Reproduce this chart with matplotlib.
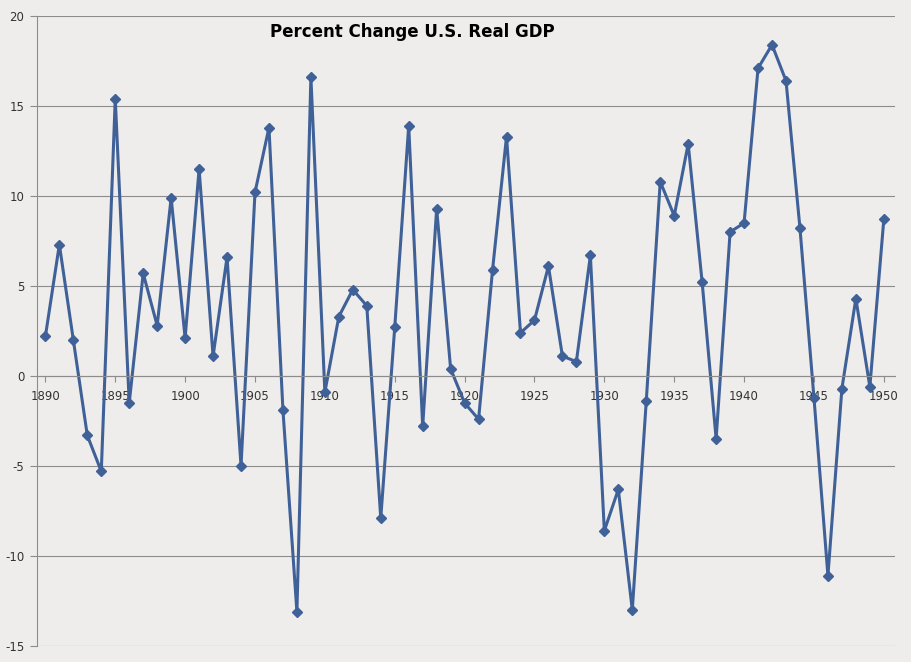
import matplotlib
matplotlib.use("Agg")
import matplotlib.pyplot as plt
from matplotlib.ticker import FuncFormatter

years = list(range(1890, 1951))
gdp = [2.2, 7.3, 2.0, -3.3, -5.3, 15.4, -1.5, 5.7, 2.8, 9.9,
       2.1, 11.5, 1.1, 6.6, -5.0, 10.2, 13.8, -1.9, -13.1, 16.6,
       -0.9, 3.3, 4.8, 3.9, -7.9, 2.7, 13.9, -2.8, 9.3, 0.4,
       -1.5, -2.4, 5.9, 13.3, 2.4, 3.1, 6.1, 1.1, 0.8, 6.7,
       -8.6, -6.3, -13.0, -1.4, 10.8, 8.9, 12.9, 5.2, -3.5, 8.0,
       8.5, 17.1, 18.4, 16.4, 8.2, -1.2, -11.1, -0.7, 4.3, -0.6, 8.7]
xticks = list(range(1890, 1951, 5))
yticks = list(range(-15, 21, 5))

bg = "#EEEDEB"
fig = plt.figure(figsize=(9.12, 6.62), dpi=100, facecolor=bg)
ax = fig.add_axes([37/912, 16/662, (895-37)/912, (646-16)/662])
ax.set_facecolor(bg)
ax.plot(years, gdp, color="#3F6198", lw=2.2, marker="D", ms=5,
        markerfacecolor="#3F6198", markeredgecolor="#3F6198")
ax.set_xlim(1889.4, 1950.8)
ax.set_ylim(-15, 20)
ax.set_yticks(yticks)
ax.set_xticks(xticks)
ax.yaxis.set_major_formatter(FuncFormatter(lambda v, p: "%d" % v))
ax.yaxis.grid(True, color="#8C8C8C", lw=0.8)
ax.set_axisbelow(True)
for s in ["top", "right"]:
    ax.spines[s].set_visible(False)
ax.spines["bottom"].set_position(("data", 0))
ax.spines["bottom"].set_color("#8C8C8C")
ax.spines["left"].set_color("#8C8C8C")
ax.tick_params(axis="y", length=5, color="#8C8C8C", labelsize=8.5, pad=4, labelcolor="#333333")
ax.tick_params(axis="x", direction="out", length=4, color="#8C8C8C", labelsize=8.5, pad=6, labelcolor="#333333")
ax.text(1906.1, 19.1, "Percent Change U.S. Real GDP", fontsize=12, fontweight="bold", ha="left", va="center")
fig.savefig("out.png", dpi=100, facecolor=bg)
